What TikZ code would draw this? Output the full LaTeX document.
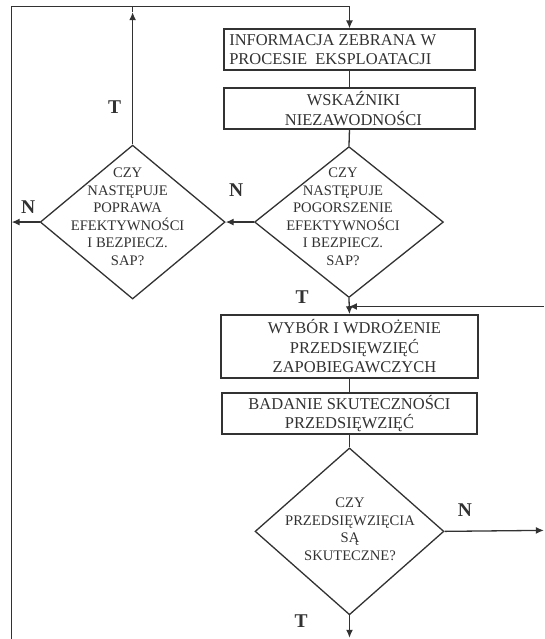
\documentclass[tikz,border=0pt]{standalone}
\usepackage{fontspec}
\setmainfont{Liberation Serif}
\usetikzlibrary{shapes.geometric,arrows.meta}
\definecolor{ink}{RGB}{50,50,50}
\begin{document}
\begin{tikzpicture}[x=1pt,y=-1pt,
  every path/.style={draw=ink},
  box/.style={draw=ink,line width=1.6pt,rectangle,inner sep=0pt,text=ink,align=center,
    font=\fontsize{16.5}{19.5}\selectfont},
  dia/.style={draw=ink,line width=1.3pt,diamond,inner sep=0pt,
    minimum width=189pt,minimum height=151pt},
  diatext/.style={text=ink,align=center,inner sep=0pt,font=\fontsize{14.6}{17.5}\selectfont},
  lbl/.style={text=ink,font=\fontsize{19.5}{19.5}\selectfont\bfseries,inner sep=0pt},
  conn/.style={draw=ink,line width=1.3pt},
  arr/.style={conn,-{Latex[length=8pt,width=7pt]}}]
\useasboundingbox (0,0) rectangle (544,639);
\fill[white] (0,0) rectangle (544,639);

% boxes
\node[box,minimum width=251pt,minimum height=41pt] (b1) at (349.5,49.5) {};
\node[text=ink,align=left,anchor=west,inner sep=0pt,font=\fontsize{16.5}{19.5}\selectfont] (b1t) at (229,49.5)
  {INFORMACJA ZEBRANA W\\PROCESIE \ EKSPLOATACJI};
\node[box,minimum width=251pt,minimum height=41pt] (b2) at (349.5,108.5)
  {\hspace*{8pt}WSKAŹNIKI\\\hspace*{8pt}NIEZAWODNOŚCI};
\node[box,minimum width=257pt,minimum height=63pt] (b3) at (349.5,346.5)
  {\hspace*{10pt}WYBÓR I WDROŻENIE\\\hspace*{10pt}PRZEDSIĘWZIĘĆ\\\hspace*{10pt}ZAPOBIEGAWCZYCH};
\node[box,minimum width=255pt,minimum height=41pt] (b4) at (349.5,413.5)
  {BADANIE SKUTECZNOŚCI\\PRZEDSIĘWZIĘĆ};

% diamonds
\node[dia] (d1) at (349,222) {};
\node[diatext] (d1t) at (343,216.5)
  {CZY\\NASTĘPUJE\\POGORSZENIE\\EFEKTYWNOŚCI\\I BEZPIECZ.\\SAP?};
\node[dia,minimum width=185pt,minimum height=154pt] (d2) at (132.5,222) {};
\node[diatext] (d2t) at (127.5,216.5)
  {CZY\\NASTĘPUJE\\POPRAWA\\EFEKTYWNOŚCI\\I BEZPIECZ.\\SAP?};
\node[dia,minimum height=167pt] (d3) at (349.5,531.5) {};
\node[diatext] (d3t) at (350,529.5)
  {CZY\\PRZEDSIĘWZIĘCIA\\SĄ\\SKUTECZNE?};

% labels
\node[lbl] (lT1) at (114.5,107) {T};
\node[lbl] (lN1) at (236,190) {N};
\node[lbl] (lN2) at (28,207) {N};
\node[lbl] (lT2) at (302,297) {T};
\node[lbl] (lN3) at (465,510) {N};
\node[lbl] (lT3) at (301,621) {T};

% coordinates
\coordinate (tl) at (11.5,6);
\coordinate (tr) at (349.5,6);
\coordinate (bl) at (11.5,639);
\coordinate (ua) at (132.5,12);
\coordinate (rin) at (544,306.5);
\coordinate (rout) at (544,530.5);
\coordinate (bot) at (349.5,638);

% connectors
\draw[conn] (bl) -- (tl) -- (tr);
\draw[arr] (tr) -- (b1.north);
\draw[conn] (b1.south) -- (b2.north);
\draw[conn] (b2.south) -- (d1.north);
\draw[arr] (d1.west) -- (d2.east);
\draw[arr] (d2.west) -- (d2.west -| tl);
\draw[arr] (d2.north) -- (ua);
\draw[conn] (ua) -- (ua |- tl);
\draw[arr] (d1.south) -- (b3.north);
\draw[arr] (rin) -- (rin -| d1.south);
\draw[conn] (b3.south) -- (b4.north);
\draw[conn] (b4.south) -- (d3.north);
\draw[arr] (d3.east) -- (rout);
\draw[arr] (d3.south) -- (bot);
\end{tikzpicture}
\end{document}
